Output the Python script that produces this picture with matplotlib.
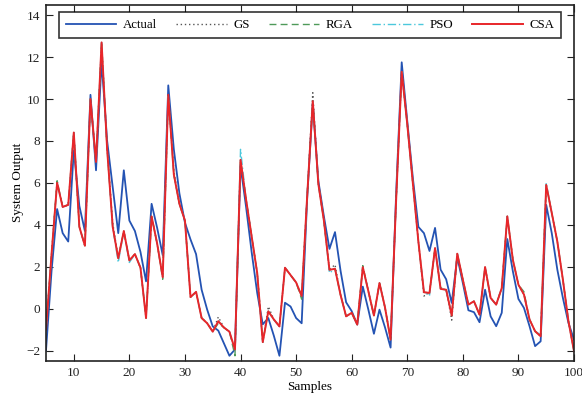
import matplotlib
matplotlib.use("Agg")
import matplotlib.pyplot as plt
import numpy as np

samples = list(range(5, 101))

actual = [-2.0, 1.8, 4.75, 3.6, 3.2, 7.55, 4.9, 3.7, 10.2, 6.6,
          11.8, 8.0, 5.8, 3.6, 6.6, 4.2, 3.7, 2.7, 1.3, 5.0,
          3.85, 2.55, 10.65, 7.6, 5.5, 4.1, 3.3, 2.6, 0.9, -0.05,
          -0.85, -1.05, -1.65, -2.25, -1.95, 6.8, 4.85, 2.7, 0.75, -0.75,
          -0.45, -1.3, -2.25, 0.28, 0.1, -0.45, -0.7, 5.3, 9.8, 6.1,
          4.4, 2.85, 3.65, 1.8, 0.3, -0.12, -0.76, 1.05, -0.05, -1.2,
          -0.05, -0.9, -1.86, 5.5, 11.75, 8.95, 6.25, 3.9, 3.6, 2.75,
          3.85, 1.86, 1.4, 0.27, 2.46, 1.22, -0.08, -0.17, -0.65, 0.9,
          -0.37, -0.84, -0.2, 3.32, 1.78, 0.46, 0.03, -0.84, -1.79, -1.56,
          4.95, 3.6, 1.86, 0.51, -0.68, -1.48]

csa = [-1.0, 2.6, 6.0, 4.85, 4.95, 8.4, 3.9, 3.0, 10.0, 7.0,
       12.7, 7.6, 3.9, 2.4, 3.7, 2.3, 2.6, 1.95, -0.45, 4.4,
       3.1, 1.5, 10.2, 6.4, 5.0, 4.2, 0.55, 0.8, -0.45, -0.7,
       -1.1, -0.6, -0.9, -1.1, -1.95, 7.1, 5.2, 3.45, 1.7, -1.6,
       -0.13, -0.52, -0.85, 1.95, 1.6, 1.25, 0.6, 5.4, 9.9, 5.95,
       4.2, 1.85, 1.9, 0.65, -0.37, -0.2, -0.76, 1.98, 0.83, -0.33,
       1.22, 0.05, -1.48, 5.2, 11.3, 8.8, 6.0, 3.2, 0.78, 0.75,
       2.89, 0.94, 0.9, -0.33, 2.62, 1.38, 0.19, 0.35, -0.29, 1.98,
       0.51, 0.19, 0.98, 4.4, 2.33, 1.14, 0.67, -0.52, -1.08, -1.32,
       5.9, 4.56, 3.2, 1.38, -0.6, -2.03]

gs = [-1.0, 2.6, 6.1, 4.85, 4.95, 8.4, 3.9, 3.0, 10.0, 7.0,
      12.7, 7.6, 4.1, 2.4, 3.7, 2.3, 2.6, 1.95, -0.45, 4.4,
      3.1, 1.5, 10.2, 6.6, 5.0, 4.2, 0.55, 0.8, -0.45, -0.7,
      -1.1, -0.4, -0.9, -1.1, -1.95, 7.0, 5.2, 3.45, 1.7, -1.6,
      0.1, -0.52, -0.85, 1.95, 1.6, 1.25, 0.6, 5.4, 10.3, 5.95,
      4.2, 1.85, 2.1, 0.65, -0.37, -0.2, -0.76, 1.98, 0.83, -0.33,
      1.22, 0.05, -1.48, 5.2, 11.3, 8.8, 6.0, 3.2, 0.6, 0.75,
      2.89, 0.94, 0.9, -0.55, 2.62, 1.38, 0.19, 0.35, -0.29, 1.98,
      0.51, 0.19, 0.98, 4.4, 2.33, 1.14, 0.67, -0.52, -1.08, -1.32,
      5.9, 4.56, 3.2, 1.38, -0.6, -2.03]

rga = [-1.0, 2.6, 6.1, 4.85, 4.95, 8.4, 3.9, 3.0, 10.0, 7.0,
       12.7, 7.6, 3.9, 2.4, 3.7, 2.3, 2.6, 1.95, -0.45, 4.4,
       3.1, 1.4, 10.2, 6.4, 5.0, 4.2, 0.55, 0.8, -0.45, -0.7,
       -1.1, -0.7, -0.9, -1.1, -2.25, 7.1, 5.2, 3.45, 1.7, -1.6,
       -0.13, -0.52, -0.85, 1.95, 1.6, 1.25, 0.45, 5.4, 9.9, 5.95,
       4.2, 1.85, 1.9, 0.65, -0.37, -0.2, -0.76, 2.05, 0.83, -0.33,
       1.22, 0.05, -1.48, 5.2, 11.3, 8.8, 6.0, 3.2, 0.78, 0.75,
       2.89, 1.0, 0.9, -0.33, 2.62, 1.38, 0.19, 0.35, -0.29, 1.98,
       0.51, 0.19, 0.98, 4.4, 2.33, 1.14, 0.8, -0.52, -1.08, -1.32,
       5.9, 4.56, 3.2, 1.38, -0.6, -2.03]

pso = [-1.0, 2.6, 6.0, 4.85, 4.95, 8.4, 3.9, 3.0, 10.0, 7.0,
       12.7, 7.6, 3.9, 2.2, 3.7, 2.2, 2.6, 1.95, -0.45, 4.4,
       3.1, 1.5, 10.2, 6.4, 5.0, 4.2, 0.55, 0.8, -0.45, -0.7,
       -1.1, -0.6, -0.9, -1.1, -1.95, 7.6, 5.2, 3.45, 1.7, -1.6,
       -0.13, -0.52, -0.85, 1.95, 1.6, 1.25, 0.6, 5.4, 9.9, 5.95,
       4.2, 1.7, 1.9, 0.65, -0.37, -0.2, -0.76, 1.98, 0.83, -0.33,
       1.22, 0.05, -1.48, 5.2, 11.3, 8.8, 6.0, 3.2, 0.78, 0.62,
       2.89, 0.94, 0.9, -0.33, 2.62, 1.38, 0.19, 0.35, -0.29, 1.98,
       0.51, 0.19, 0.98, 4.4, 2.33, 1.14, 0.67, -0.52, -1.08, -1.25,
       6.0, 4.56, 3.2, 1.38, -0.6, -2.03]

x_ticks = [10, 20, 30, 40, 50, 60, 70, 80, 90, 100]
y_ticks = [-2, 0, 2, 4, 6, 8, 10, 12, 14]

plt.rcParams['font.family'] = ['Liberation Serif', 'DejaVu Serif']
plt.rcParams['font.size'] = 9

fig = plt.figure(figsize=(5.82, 4.03), dpi=100)
ax = fig.add_axes([46/582, 1 - 361/403, (574-46)/582, (361-4.7)/403])

ax.plot(samples, actual, color='#2453b3', lw=1.3, label='Actual')
ax.plot(samples, gs, color='#555555', lw=1.0, ls=(0, (1, 2)), label='GS')
ax.plot(samples, rga, color='#4f9a5a', lw=1.0, ls=(0, (5, 3)), label='RGA')
ax.plot(samples, pso, color='#4cc8dc', lw=1.0, ls=(0, (6, 2, 1, 2)), label='PSO')
ax.plot(samples, csa, color='#e8262a', lw=1.4, label='CSA')

ax.set_xlim(5, 100)
ax.set_ylim(-2.5, 14.5)
ax.set_xticks(x_ticks)
ax.set_yticks(y_ticks)
ax.tick_params(direction='in', length=5, width=0.8, top=True, right=True,
               labelsize=9.5, colors='#222222', pad=4)
for sp in ax.spines.values():
    sp.set_linewidth(1.2)
    sp.set_color('#222222')

ax.set_xlabel('Samples', fontsize=9.5, labelpad=2)
ax.set_ylabel('System Output', fontsize=9.5, labelpad=2)

leg = ax.legend(loc='upper center', bbox_to_anchor=(0.5, 0.9795), ncol=5,
                fontsize=9.3, handlelength=3.9, handletextpad=0.5,
                columnspacing=1.5, borderpad=0.55, borderaxespad=0.0,
                frameon=True, fancybox=False)
leg.get_frame().set_edgecolor('black')
leg.get_frame().set_linewidth(1.2)

fig.savefig('out.png', dpi=100)
